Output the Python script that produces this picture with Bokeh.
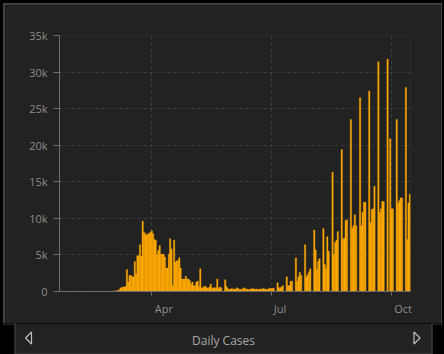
import pandas as pd
from bokeh.plotting import figure
from bokeh.layouts import column
from bokeh.models import (ColumnDataSource, Range1d, FixedTicker, DatetimeTickFormatter,
                          DatetimeAxis)
from bokeh.embed import file_html
from bokeh.resources import INLINE
from bokeh.core.properties import value

# ---------------- data ----------------
start_date = "2020-01-22"
cases_jan = [0, 0, 0, 0, 0, 0, 0, 0, 0, 1]
cases_feb = [0, 0, 0, 0, 0, 0, 0, 0, 1, 0, 0, 0, 0, 0, 0, 0, 0, 0, 0, 0,
             0, 0, 0, 0, 4, 6, 2, 8, 13]
cases_mar = [40, 30, 50, 70, 100, 150, 200, 450, 550, 600, 600, 700, 3000, 1300, 2200,
             2200, 2000, 2000, 4100, 2400, 4900, 4900, 6400, 4800, 9600, 8100, 7900, 7700,
             7900, 7900, 8100]
cases_apr = [8300, 7900, 7100, 7000, 5000, 5600, 6300, 5100, 5100, 5100, 4700, 3200, 3200,
             5100, 7200, 5800, 800, 7000, 4000, 4200, 4200, 4600, 3200, 1700, 1700, 1700,
             2100, 1700, 1700, 1500]
cases_may = [1000, 1300, 800, 800, 1300, 1400, 700, 3100, 500, 500, 700, 700, 500, 400, 600,
             1000, 400, 500, 500, 500, 1700, 400, 600, 500, 0, 0, 1600, 700, 400, 300, 300]
cases_jun = [400, 300, 350, 300, 500, 400, 250, 300, 250, 500, 400, 350, 300, 250, 300, 350,
             400, 350, 300, 350, 250, 300, 350, 300, 400, 350, 300, 250, 350, 450]
cases_jul = [400, 400, 450, 0, 0, 1200, 500, 500, 600, 800, 0, 0, 2000, 800, 800, 1400, 1400,
             0, 0, 4600, 1400, 2000, 2600, 2200, 0, 0, 6400, 2000, 2300, 2700, 3100]
cases_aug = [0, 0, 8400, 5700, 3000, 4100, 4500, 0, 0, 8600, 3700, 3100, 7500, 5500, 0, 0,
             16300, 5100, 6700, 7000, 8200, 0, 0, 19400, 7100, 7300, 9700, 9800, 0, 0, 23500]
cases_sep = [8600, 9000, 10500, 9000, 0, 0, 26500, 9000, 10800, 12200, 12200, 0, 0, 27400,
             9400, 11200, 11300, 14400, 0, 0, 31400, 10800, 11300, 12300, 12300, 0, 0, 31800,
             0, 20900]
cases_oct = [11300, 11300, 0, 0, 23500, 12000, 12400, 12800, 12800, 0, 0, 27900, 7100, 12100,
             13300]

y_ticks = [0, 5000, 10000, 15000, 20000, 25000, 30000, 35000]
y_tick_labels = ["0", "5k", "10k", "15k", "20k", "25k", "30k", "35k"]
x_tick_dates = ["2020-04-01", "2020-07-01", "2020-10-01"]
x_tick_labels = ["Apr", "Jul", "Oct"]
nav_title = "Daily Cases"

# ---------------- styles ----------------
BG = "#222222"
BORDER = "#454545"
BAR = "#FFAA00"
AXIS = "#6e6e6e"
LABEL = "#8c8c8c"
GRID = "#3e3e3e"
FONT = "Open Sans"
FRAME_W = 351                       # plot-area width in px
LABEL_SHIFT_PX = [12.0, 9.0, 11.5]  # tick labels start just right of their tick

values = (cases_jan + cases_feb + cases_mar + cases_apr + cases_may + cases_jun +
          cases_jul + cases_aug + cases_sep + cases_oct)
dates = pd.date_range(start_date, periods=len(values), freq="D")
src = ColumnDataSource(dict(date=dates, cases=values))

DAY_MS = 86400000
def ms(ts):
    return pd.Timestamp(ts).value // 10**6

x_start = ms(dates[0]) - DAY_MS / 2
x_end = ms(dates[-1]) + DAY_MS / 2
ms_per_px = (x_end - x_start) / FRAME_W
x_tick_ms = [ms(d) for d in x_tick_dates]
x_label_ms = [t + s * ms_per_px for t, s in zip(x_tick_ms, LABEL_SHIFT_PX)]

p = figure(width=437, height=319, x_axis_type="datetime", output_backend="svg",
           toolbar_location=None,
           x_range=Range1d(x_start, x_end), y_range=Range1d(0, 35000),
           background_fill_color=BG, border_fill_color=BG, outline_line_color=None,
           min_border_left=55, min_border_right=31, min_border_top=31, min_border_bottom=32,
           margin=(1, 1, 0, 1))

p.vbar(x="date", top="cases", width=DAY_MS, source=src,
       fill_color=BAR, line_color=BAR, line_width=0.4)

xax = p.xaxis[0]
yax = p.yaxis[0]
# tick marks + grid positions (labels drawn by a second axis just below)
xax.ticker = FixedTicker(ticks=x_tick_ms)
xax.major_label_overrides = {t: "" for t in x_tick_ms}
xax.major_label_text_font_size = "0px"
xax.major_label_standoff = 0
xax.major_tick_out = 4

lab = DatetimeAxis(ticker=FixedTicker(ticks=x_label_ms),
                   formatter=DatetimeTickFormatter(days="%b", months="%b", years="%b"),
                   axis_line_color=None, major_tick_line_color=None,
                   minor_tick_line_color=None, major_tick_out=0, major_tick_in=0,
                   major_label_standoff=5)
lab.major_label_overrides = {t: l for t, l in zip(x_label_ms, x_tick_labels)}
lab.major_label_text_color = LABEL
lab.major_label_text_font = FONT
lab.major_label_text_font_size = "11px"
p.add_layout(lab, "below")

yax.ticker = FixedTicker(ticks=y_ticks)
yax.major_label_overrides = {t: l for t, l in zip(y_ticks, y_tick_labels)}
yax.major_tick_out = 6
yax.major_label_standoff = 6
yax.major_label_text_color = LABEL
yax.major_label_text_font = FONT
yax.major_label_text_font_size = "11px"

for ax in (xax, yax):
    ax.axis_line_color = AXIS
    ax.major_tick_line_color = AXIS
    ax.minor_tick_line_color = None
    ax.major_tick_in = 0

p.xgrid.grid_line_color = GRID
p.xgrid.grid_line_dash = "3 3"
p.ygrid.grid_line_color = GRID
p.ygrid.grid_line_dash = "3 3"

panel = column(p, margin=(3, 2, 0, 3), styles={"background-color": BORDER})

# ---------------- navigation bar ----------------
nav = figure(width=444, height=31, x_range=Range1d(0, 444), y_range=Range1d(0, 31),
             output_backend="svg", toolbar_location=None, x_axis_location=None,
             y_axis_location=None, min_border=0, background_fill_color="#000000",
             border_fill_color="#000000", outline_line_color=None)
nav.grid.visible = False
nav.quad(left=[14], right=[432], bottom=[0], top=[31], fill_color=BG, line_color=None)
nav.multi_line(xs=[[14.5, 14.5], [431.5, 431.5], [14, 432], [3, 15], [431, 441.5]],
               ys=[[0, 31], [0, 31], [0.5, 0.5], [30.5, 30.5], [30.5, 30.5]],
               line_color=BORDER, line_width=1)
nav.multi_line(xs=[[3.5, 3.5], [441.5, 441.5]], ys=[[30, 31], [30, 31]],
               line_color=BORDER, line_width=1)
nav.patches(xs=[[25, 31, 31], [413.5, 413.5, 419.5]],
            ys=[[16.5, 22.5, 10.5], [22.5, 10.5, 16.5]],
            fill_alpha=0, line_color="#bdbdbd", line_width=1.2)
nav.text(x=[223], y=[14.5], text=[nav_title], text_align="center",
         text_baseline="alphabetic", text_color="#a6a6a6",
         text_font=value(FONT), text_font_size="12px")

layout = column(panel, nav, styles={"background-color": "#000000"})

open("out.html", "w").write(file_html(layout, INLINE))
